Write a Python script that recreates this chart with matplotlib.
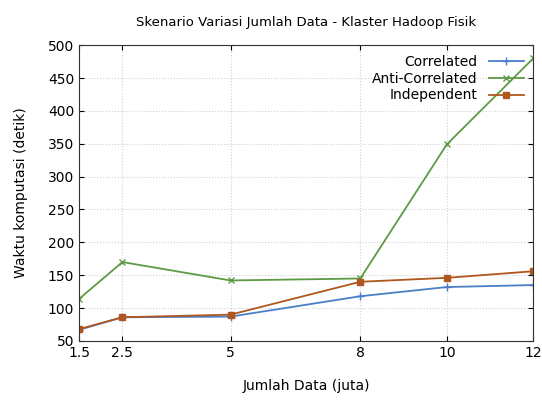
import matplotlib
matplotlib.use("Agg")
import matplotlib.pyplot as plt

jumlah_data = [1.5, 2.5, 5, 8, 10, 12]
correlated = [67, 86, 87, 118, 132, 135]
anti_correlated = [114, 170, 142, 145, 349, 480]
independent = [68, 86, 90, 140, 146, 156]

fig = plt.figure(figsize=(5.42, 4.03), dpi=100)
ax = fig.add_axes([0.146, 0.154, 0.838, 0.734])

ax.plot(jumlah_data, correlated, color='#4a7fc8', marker='+', markersize=6,
        linewidth=1.3, label='Correlated')
ax.plot(jumlah_data, anti_correlated, color='#5e9a45', marker='x', markersize=5,
        linewidth=1.3, label='Anti-Correlated')
ax.plot(jumlah_data, independent, color='#b0561f', marker='s', markersize=4,
        linewidth=1.3, label='Independent')

ax.set_xlim(1.5, 12)
ax.set_ylim(50, 500)
ax.set_xticks(jumlah_data)
ax.set_xticklabels(['1.5', '2.5', '5', '8', '10', '12'])
ax.set_yticks(range(50, 501, 50))
ax.tick_params(direction='in', top=True, right=True, labelsize=10)
for s in ax.spines.values():
    s.set_color('#333333')
ax.grid(True, color='#d0d0d0', linestyle=':', linewidth=0.8)

ax.set_title('Skenario Variasi Jumlah Data - Klaster Hadoop Fisik', fontsize=9.5, pad=14)
ax.set_xlabel('Jumlah Data (juta)', fontsize=10, labelpad=14)
ax.set_ylabel('Waktu komputasi (detik)', fontsize=10, labelpad=14)

ax.legend(loc='upper right', markerfirst=False, frameon=False, fontsize=10,
          handlelength=2.5, labelspacing=0.2, borderaxespad=0.3)

fig.savefig('out.png', dpi=100)
